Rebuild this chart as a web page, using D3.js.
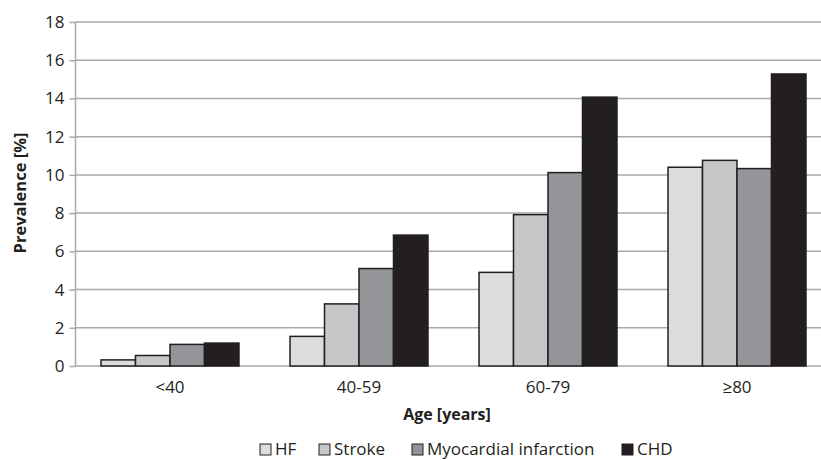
<!DOCTYPE html>
<html><head><meta charset="utf-8">
<script src="https://cdn.jsdelivr.net/npm/d3@7"></script>
<style>body{margin:0;background:#fff}svg{display:block}text{font-family:"Open Sans",sans-serif;fill:#231f20}</style>
</head><body><svg id="c" width="821" height="460"></svg>
<script>
const categories = ["<40", "40-59", "60-79", "\u226580"];
const seriesNames = ["HF", "Stroke", "Myocardial infarction", "CHD"];
const hf = [0.32, 1.55, 4.9, 10.4];
const stroke = [0.55, 3.25, 7.92, 10.76];
const mi = [1.13, 5.1, 10.12, 10.33];
const chd = [1.2, 6.85, 14.07, 15.28];
const yTicks = [0, 2, 4, 6, 8, 10, 12, 14, 16, 18];
const colors = ["#dcdddf", "#c6c7c9", "#939598", "#231f20"];

const values = [hf, stroke, mi, chd];
const svg = d3.select("#c");
const mLeft = 75.5, mRight = 831.5, mTop = 22, mBottom = 366;

const x0 = d3.scaleBand().domain(categories).range([mLeft, mRight]).paddingInner(0.27).paddingOuter(0.135);
const x1 = d3.scaleBand().domain(seriesNames).range([0, x0.bandwidth()]);
const y = d3.scaleLinear().domain([0, 18]).range([mBottom, mTop]);

const yAxis = d3.axisLeft(y).tickValues(yTicks).tickSize(6).tickPadding(5);
const gy = svg.append("g").attr("transform", `translate(${mLeft},0)`).call(yAxis);
gy.select(".domain").remove();
gy.selectAll(".tick line").attr("stroke", "#a7a9ac").attr("stroke-width", 1.5);
gy.selectAll(".tick text").style("font-size", "17px").attr("fill", "#231f20");
svg.append("g").selectAll("line").data(yTicks).join("line")
  .attr("x1", mLeft).attr("x2", 821).attr("y1", d => y(d)).attr("y2", d => y(d))
  .attr("stroke", "#a7a9ac").attr("stroke-width", 1.5);
svg.append("line").attr("x1", mLeft).attr("x2", mLeft).attr("y1", y(18)).attr("y2", y(0))
  .attr("stroke", "#a7a9ac").attr("stroke-width", 1.5);

const groups = svg.append("g").selectAll("g").data(categories).join("g")
  .attr("transform", d => `translate(${x0(d)},0)`);
groups.selectAll("rect").data((c, i) => seriesNames.map((s, j) => ({s, j, v: values[j][i]})))
  .join("rect")
  .attr("x", d => x1(d.s)).attr("width", x1.bandwidth())
  .attr("y", d => y(d.v)).attr("height", d => y(0) - y(d.v))
  .attr("fill", d => colors[d.j]).attr("stroke", "#231f20").attr("stroke-width", 1.5);

const xAxis = d3.axisBottom(x0).tickSize(0).tickPadding(15);
const gx = svg.append("g").attr("transform", `translate(0,${mBottom})`).call(xAxis);
gx.select(".domain").remove();
gx.selectAll(".tick text").style("font-size", "17px").attr("fill", "#231f20");

svg.append("text").attr("x", 447).attr("y", 420).attr("text-anchor", "middle")
  .style("font-size", "16px").style("font-weight", "bold").text("Age [years]");
svg.append("text").attr("transform", "translate(20,193) rotate(-90)").attr("dy", "0.35em").attr("text-anchor", "middle")
  .style("font-size", "16.5px").style("font-weight", "bold").text("Prevalence [%]");

const legendX = [260, 319, 412, 622];
const lg = svg.append("g").selectAll("g").data(seriesNames).join("g")
  .attr("transform", (d, i) => `translate(${legendX[i]},444)`);
lg.append("rect").attr("width", 11).attr("height", 11).attr("fill", (d, i) => colors[i])
  .attr("stroke", "#231f20").attr("stroke-width", 1);
lg.append("text").attr("x", 15).attr("y", 11).style("font-size", "17px").text(d => d);
</script></body></html>
